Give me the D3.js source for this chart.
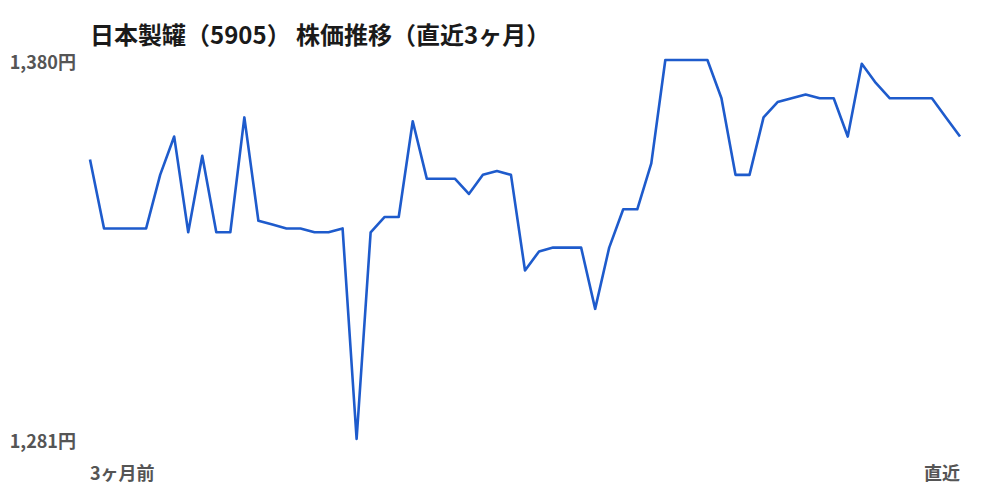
<!DOCTYPE html>
<html lang="ja">
<head>
<meta charset="UTF-8">
<title>日本製罐（5905） 株価推移</title>
<style>
    body { margin: 0; background: #fff; }
    text { font-family: "Noto Sans CJK JP", "Noto Sans", sans-serif; }
    .title { font-size: 24px; font-weight: 700; fill: #1a1a1a; }
    .tick-label { font-size: 18px; font-weight: 700; fill: #555; }
    .line { fill: none; stroke: #1e5bcc; stroke-width: 2.6px; stroke-linejoin: round; }
</style>
</head>
<body>
<svg width="1000" height="500"></svg>
<script src="https://d3js.org/d3.v7.min.js"></script>
<script>
// 終値（直近3ヶ月、古い順）
var prices = [
    1354, 1336, 1336, 1336, 1336, 1350, 1360, 1335, 1355, 1335,
    1335, 1365, 1338, 1337, 1336, 1336, 1335, 1335, 1336, 1281,
    1335, 1339, 1339, 1364, 1349, 1349, 1349, 1345, 1350, 1351,
    1350, 1325, 1330, 1331, 1331, 1331, 1315, 1331, 1341, 1341,
    1353, 1380, 1380, 1380, 1380, 1370, 1350, 1350, 1365, 1369,
    1370, 1371, 1370, 1370, 1360, 1379, 1374, 1370, 1370, 1370,
    1370, 1365, 1360
];
var yTicks = [1281, 1380];
var xLabels = ["3ヶ月前", "直近"];
var title = "日本製罐（5905） 株価推移（直近3ヶ月）";

var svg = d3.select("svg"),
    width = +svg.attr("width"),
    height = +svg.attr("height");

var margin = { top: 60, right: 40, bottom: 61, left: 90 };

var x = d3.scaleLinear()
    .domain([0, prices.length - 1])
    .range([margin.left, width - margin.right]);

var y = d3.scaleLinear()
    .domain(d3.extent(prices))
    .range([height - margin.bottom, margin.top]);

svg.append("text")
    .attr("class", "title")
    .attr("x", margin.left)
    .attr("y", 44)
    .text(title);

// y軸（最小・最大のみ）
var yAxis = d3.axisLeft(y)
    .tickValues(yTicks)
    .tickSize(0)
    .tickPadding(0)
    .tickFormat(function (d) { return d3.format(",")(d) + "円"; });

var yg = svg.append("g")
    .attr("transform", "translate(" + (margin.left - 14) + ",2)")
    .call(yAxis);
yg.select(".domain").remove();
yg.selectAll("text")
    .attr("class", "tick-label")
    .attr("dy", "0.35em");
yg.attr("font-size", null).attr("font-family", null);

// x軸ラベル
svg.selectAll(".x-label")
    .data(xLabels)
    .enter()
    .append("text")
    .attr("class", "tick-label")
    .attr("x", function (d, i) { return i === 0 ? x(0) : x(prices.length - 1); })
    .attr("y", 480)
    .attr("text-anchor", function (d, i) { return i === 0 ? "start" : "end"; })
    .text(function (d) { return d; });

var line = d3.line()
    .x(function (d, i) { return x(i); })
    .y(function (d) { return y(d); });

svg.append("path")
    .datum(prices)
    .attr("class", "line")
    .attr("d", line);
</script>
</body>
</html>
